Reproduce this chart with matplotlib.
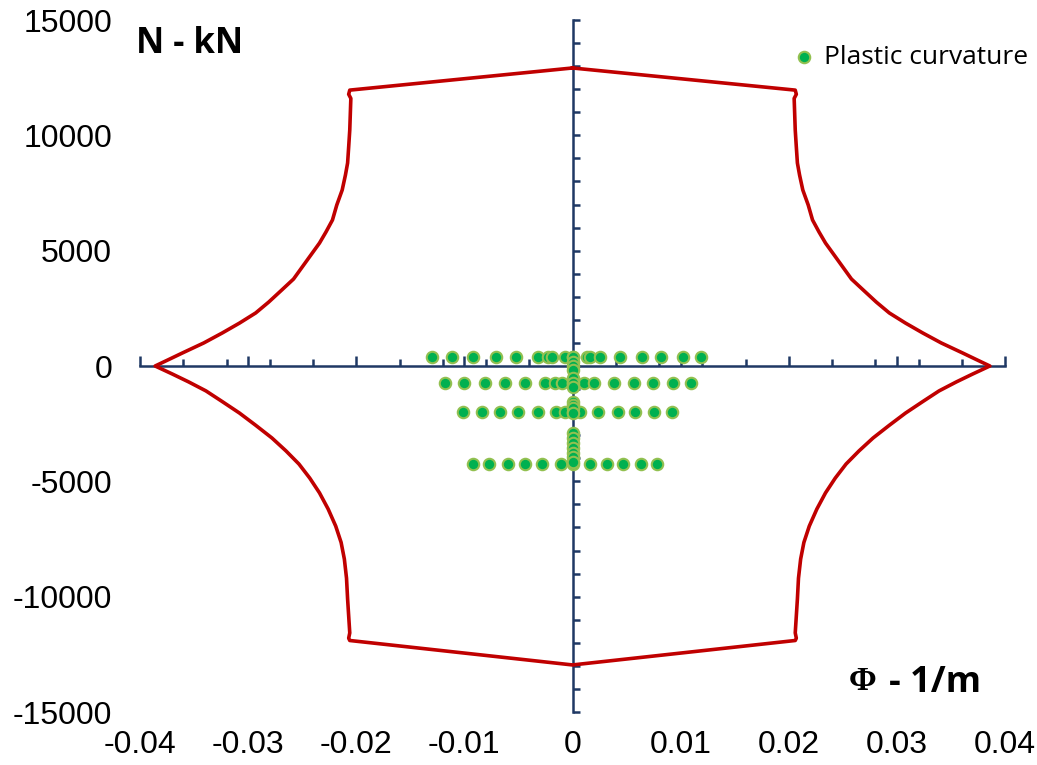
import numpy as np
import matplotlib
matplotlib.use("Agg")
import matplotlib.pyplot as plt
from matplotlib.ticker import MultipleLocator

# interaction curve (left half), upper and lower branches, tip -> corner -> peak
upper_phi = [-0.0386, -0.0373, -0.0361, -0.0341, -0.0324, -0.0308, -0.0293, -0.0281,
             -0.0269, -0.0258, -0.0250, -0.0242, -0.0234, -0.0228, -0.0222, -0.0218,
             -0.0213, -0.0210, -0.0208, -0.0207, -0.0206, -0.0205, -0.0207, -0.0206, 0.0]
upper_n = [0, 290, 560, 1000, 1430, 1860, 2300, 2770,
           3290, 3770, 4290, 4810, 5330, 5810, 6330, 6980,
           7630, 8280, 8800, 9500, 10230, 11600, 11780, 11960, 12920]
lower_phi = [-0.0386, -0.0370, -0.0355, -0.0339, -0.0324, -0.0308, -0.0293, -0.0278,
             -0.0265, -0.0253, -0.0243, -0.0234, -0.0226, -0.0219, -0.0214, -0.0211,
             -0.0209, -0.0208, -0.0206, -0.0207, -0.0206, 0.0]
lower_n = [0, -350, -690, -1080, -1540, -2040, -2570, -3120,
           -3680, -4250, -4860, -5500, -6200, -6940, -7650, -8370,
           -9200, -10100, -11570, -11800, -11900, -12960]

# plastic curvature points, one row per axial load level
row1_n = 390
row1_phi = [-0.0130, -0.0111, -0.0092, -0.0071, -0.0052, -0.0032, -0.0023, -0.0019,
            -0.0007, 0.0, 0.0013, 0.0016, 0.0025, 0.0044, 0.0064, 0.0082, 0.0102, 0.0119]
row2_n = -740
row2_phi = [-0.0118, -0.0100, -0.0081, -0.0062, -0.0044, -0.0025, -0.0016, -0.0010,
            0.0, 0.0011, 0.0020, 0.0038, 0.0057, 0.0074, 0.0093, 0.0110]
row3_n = -2000
row3_phi = [-0.0101, -0.0084, -0.0067, -0.0050, -0.0032, -0.0015, -0.0007, 0.0,
            0.0007, 0.0024, 0.0042, 0.0058, 0.0075, 0.0092]
row4_n = -4250
row4_phi = [-0.0092, -0.0077, -0.0060, -0.0044, -0.0028, -0.0011, 0.0,
            0.0016, 0.0032, 0.0047, 0.0063, 0.0078]
zero_n = [390, 170, 0, -170, -520, -740, -910, -1560, -1690, -1820, -2040,
          -2900, -3120, -3340, -3550, -3770, -3940, -4160]

x_ticks = [-0.04, -0.03, -0.02, -0.01, 0, 0.01, 0.02, 0.03, 0.04]
x_labels = ['-0.04', '-0.03', '-0.02', '-0.01', '0', '0.01', '0.02', '0.03', '0.04']
y_ticks = [-15000, -10000, -5000, 0, 5000, 10000, 15000]
y_labels = ['-15000', '-10000', '-5000', '0', '5000', '10000', '15000']

navy = '#1F3864'
red = '#C00000'

W, H = 1037, 765
fig = plt.figure(figsize=(W / 100, H / 100), dpi=100)
rect = [140 / W, (H - 712) / H, 865 / W, 692 / H]

# axes holding the tick labels at the plot edges
ax = fig.add_axes(rect)
ax.set_xlim(-0.04, 0.04)
ax.set_ylim(-15000, 15000)
for s in ax.spines.values():
    s.set_visible(False)
ax.set_xticks(x_ticks)
ax.set_xticklabels(x_labels)
ax.set_yticks(y_ticks)
ax.set_yticklabels(y_labels)
ax.tick_params(length=0, labelsize=23, pad=20)
ax.tick_params(axis='x', pad=13)
for t in ax.get_xticklabels() + ax.get_yticklabels():
    t.set_fontfamily('Liberation Sans')

# axes with the crossing axis lines and the data
ax2 = fig.add_axes(rect)
ax2.set_xlim(-0.04, 0.04)
ax2.set_ylim(-15000, 15000)
ax2.patch.set_visible(False)
ax2.spines['left'].set_position(('data', 0))
ax2.spines['bottom'].set_position(('data', 0))
ax2.spines['top'].set_visible(False)
ax2.spines['right'].set_visible(False)
for s in ['left', 'bottom']:
    ax2.spines[s].set_color(navy)
    ax2.spines[s].set_linewidth(1.8)
ax2.xaxis.set_major_locator(MultipleLocator(0.01))
ax2.xaxis.set_minor_locator(MultipleLocator(0.004))
ax2.yaxis.set_major_locator(MultipleLocator(5000))
ax2.yaxis.set_minor_locator(MultipleLocator(1000))
ax2.tick_params(axis='both', which='both', direction='in', color=navy, width=1.8,
                labelleft=False, labelbottom=False)
ax2.tick_params(axis='x', which='major', length=7.5)
ax2.tick_params(axis='x', which='minor', length=5)
ax2.tick_params(axis='y', which='both', length=5)

# closed curve: left half then mirrored right half
up_p = np.array(upper_phi)
up_n = np.array(upper_n)
lo_p = np.array(lower_phi)
lo_n = np.array(lower_n)
left_p = np.concatenate([up_p[::-1], lo_p[1:]])
left_n = np.concatenate([up_n[::-1], lo_n[1:]])
curve_p = np.concatenate([left_p, -left_p[::-1]])
curve_n = np.concatenate([left_n, left_n[::-1]])
ax2.plot(curve_p, curve_n, color=red, lw=2.6, zorder=3, solid_joinstyle='round')

pts_p = row1_phi + row2_phi + row3_phi + row4_phi + [0.0] * len(zero_n)
pts_n = ([row1_n] * len(row1_phi) + [row2_n] * len(row2_phi) +
         [row3_n] * len(row3_phi) + [row4_n] * len(row4_phi) + zero_n)
ax2.scatter(pts_p, pts_n, s=68, facecolor='#00B050', edgecolor='#92C050',
            linewidths=1.5, zorder=4, label='Plastic curvature')

leg = fig.legend(loc='center left', bbox_to_anchor=(771 / W, 1 - 57 / H), frameon=False,
                 handletextpad=0.0, borderpad=0, handlelength=1.5,
                 prop={'family': 'Open Sans', 'size': 19})

fig.text(136 / W, 1 - 44 / H, 'N - kN', ha='left', va='center',
         fontfamily='Open Sans', fontweight='bold', fontsize=25)
fig.text(863 / W, 1 - 682 / H, 'Φ', ha='center', va='center',
         fontfamily='Liberation Serif', fontweight='bold', fontsize=24)
fig.text(889 / W, 1 - 683 / H, '- 1/m', ha='left', va='center',
         fontfamily='Open Sans', fontweight='bold', fontsize=26)

fig.savefig('out.png', dpi=100)
